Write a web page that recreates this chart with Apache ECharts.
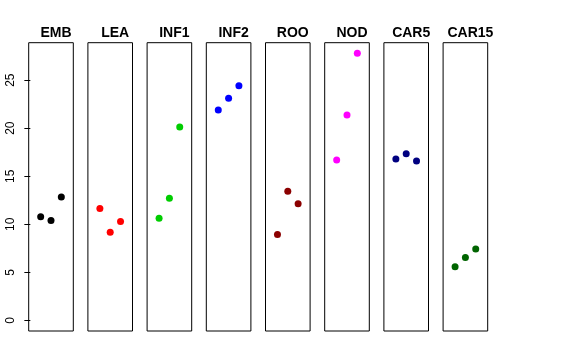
<!DOCTYPE html>
<html><head><meta charset="utf-8">
<script src="https://cdn.jsdelivr.net/npm/echarts@6/dist/echarts.min.js"></script>
<style>html,body{margin:0;padding:0;background:#fff}#c{width:576px;height:360px}</style>
</head><body><div id="c"></div>
<script>
const categories = ['EMB','LEA','INF1','INF2','ROO','NOD','CAR5','CAR15'];
const xPositions = [1, 2, 3];
const EMB = [10.77, 10.39, 12.83];
const LEA = [11.64, 9.18, 10.28];
const INF1 = [10.63, 12.72, 20.12];
const INF2 = [21.9, 23.11, 24.43];
const ROO = [8.93, 13.45, 12.13];
const NOD = [16.68, 21.38, 27.8];
const CAR5 = [16.79, 17.34, 16.58];
const CAR15 = [5.59, 6.53, 7.43];
const seriesValues = [EMB, LEA, INF1, INF2, ROO, NOD, CAR5, CAR15];
const colors = ['#000000','#ff0000','#00cd00','#0000ff','#8b0000','#ff00ff','#000080','#006400'];
const yTicks = [0, 5, 10, 15, 20, 25];

(function () {
const grids = [], xAxes = [], yAxes = [], series = [], titles = [];
const left0 = 28.7, step = 59.2, pw = 44.6, ptop = 42.7, ph = 288.3;
categories.forEach((name, i) => {
  const L = left0 + step * i;
  grids.push({left: L, top: ptop, width: pw, height: ph, show: true, borderColor: '#000', borderWidth: 1, backgroundColor: 'transparent'});
  xAxes.push({type: 'value', gridIndex: i, min: -0.16, max: 4.16, show: false});
  yAxes.push({
    type: 'value', gridIndex: i, min: -1.11, max: 28.9, show: i === 0,
    axisLine: {show: false},
    splitLine: {show: false},
    axisTick: {show: true, length: 6, lineStyle: {color: '#000'}, customValues: yTicks},
    axisLabel: {show: true, rotate: 90, customValues: yTicks, fontFamily: 'Liberation Sans, Arial, sans-serif', fontSize: 12, color: '#000', margin: 12}
  });
  series.push({
    type: 'scatter', xAxisIndex: i, yAxisIndex: i, symbolSize: 7,
    itemStyle: {color: colors[i], opacity: 1},
    data: xPositions.map((x, k) => [x, seriesValues[i][k]])
  });
  titles.push({text: name, left: L + pw / 2, top: 21, textAlign: 'center',
    textStyle: {fontFamily: 'Liberation Sans, Arial, sans-serif', fontWeight: 'bold', fontSize: 14, color: '#000'}});
});

const chart = echarts.init(document.getElementById('c'), null, {renderer: 'canvas'});
chart.setOption({animation: false, title: titles, grid: grids, xAxis: xAxes, yAxis: yAxes, series: series});
})();
</script></body></html>
